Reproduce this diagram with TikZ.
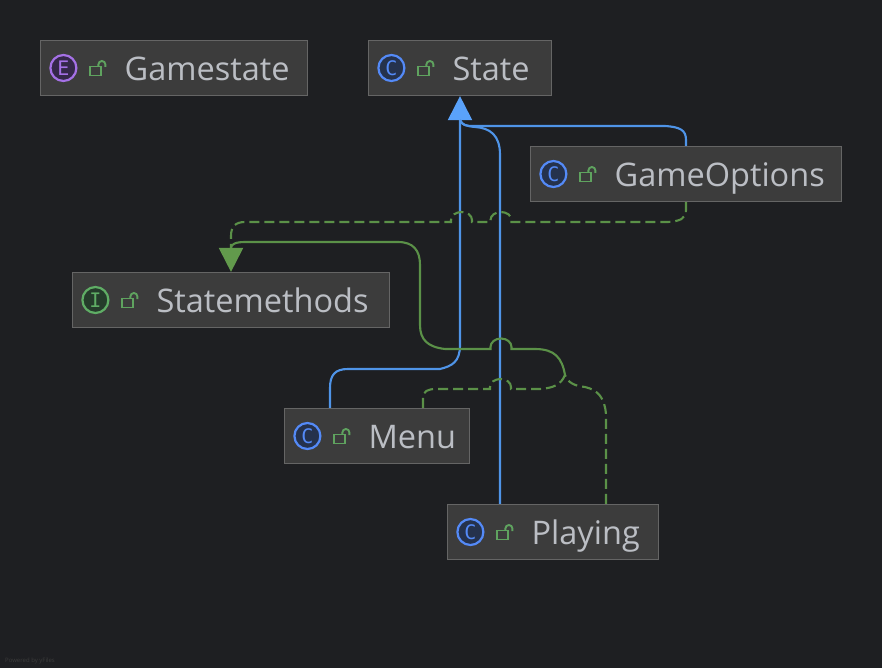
\documentclass[tikz,border=0pt]{standalone}
\usepackage{fontspec}
\setmainfont{Open Sans}
\newfontfamily\iconfont{DejaVu Sans Mono}
\usetikzlibrary{arrows.meta}
\definecolor{bgdark}{HTML}{1E1F22}
\definecolor{boxfill}{HTML}{3C3C3C}
\definecolor{boxline}{HTML}{656565}
\definecolor{labelgrey}{HTML}{BBBEC4}
\definecolor{extendblue}{HTML}{4F94E8}
\definecolor{tipblue}{HTML}{5AA2FA}
\definecolor{implgreen}{HTML}{5B9148}
\definecolor{tipgreen}{HTML}{629A4C}
\definecolor{lockgreen}{HTML}{5FA35F}
\definecolor{classblue}{HTML}{548AF7}
\definecolor{classfill}{HTML}{25324D}
\definecolor{enumpurple}{HTML}{A571E6}
\definecolor{enumfill}{HTML}{35284A}
\definecolor{ifacegreen}{HTML}{5FAD65}
\definecolor{ifacefill}{HTML}{253C2B}
\tikzset{
	umlbox/.style={draw=boxline,fill=boxfill,line width=1.2pt,minimum height=55pt,inner sep=0pt},
	boxlabel/.style={text=labelgrey,font=\fontsize{32.5}{33}\selectfont,inner sep=0pt,anchor=base west},
	iconbase/.style={circle,line width=2.2pt,minimum size=26pt,inner sep=0pt,font=\iconfont\fontsize{20}{20}\selectfont},
	classicon/.style={iconbase,draw=classblue,fill=classfill,text=classblue},
	enumicon/.style={iconbase,draw=enumpurple,fill=enumfill,text=enumpurple},
	ifaceicon/.style={iconbase,draw=ifacegreen,fill=ifacefill,text=ifacegreen},
	extendline/.style={draw=extendblue,line width=2.1pt},
	impldash/.style={draw=implgreen,line width=2.1pt,dash pattern=on 10pt off 5pt},
	impltip/.style={-{Triangle[length=24pt,width=24pt,color=tipgreen]}},
	extendtip/.style={-{Triangle[length=24pt,width=24pt,color=tipblue]}},
	unlock/.pic={
		\draw[lockgreen,line width=1.9pt,fill=boxfill] (-7.5,-1.5) rectangle (3.5,7.5);
		\draw[lockgreen,line width=1.9pt] (0.5,-1.5) -- (0.5,-3.5) arc[start angle=180,end angle=0,radius=3.5pt] -- (7.5,-1);
	}
}
\begin{document}
\begin{tikzpicture}[x=1pt,y=-1pt]
	\useasboundingbox[fill=bgdark] (0,0) rectangle (882,668);
	% connectors first, boxes sit on top
	\coordinate (statejoin) at (460,120);
	\coordinate (methodjoin) at (231,248);
	\coordinate (mergepoint) at (565,375);
	\node[umlbox,minimum width=183pt] (state) at (460,68) {};
	\node[umlbox,minimum width=317pt] (statemethods) at (231,300) {};
	\node[umlbox,minimum width=311pt] (gameoptions) at (686,174) {};
	\node[umlbox,minimum width=185pt] (menu) at (377,436) {};
	\node[umlbox,minimum width=211pt] (playing) at (553,532) {};
	\node[umlbox,minimum width=267pt] (gamestate) at (174,68) {};
	% extends State
	\draw[extendline,extendtip] ([xshift=-47pt]menu.north) -- (330,388) .. controls (330,375) and (335,369) .. (348,369) -- (440,369) .. controls (452,366) and (460,362) .. (460,345) -- (state.south);
	\draw[extendline] ([xshift=-53pt]playing.north) -- (500,155) .. controls (500,135) and (490,128) .. (475,127) .. controls (466,126) and (462,125) .. (statejoin);
	\draw[extendline] (gameoptions.north) -- (686,140) .. controls (686,130) and (680,127) .. (665,126) -- (472,126) .. controls (466,126) and (462,125) .. (statejoin);
	% implements Statemethods
	\draw[impldash] (gameoptions.south) -- (686,210) .. controls (686,219) and (680,221) .. (668,222) -- (511.5,222) -- (511.5,220) arc[start angle=0,end angle=180,x radius=10.5pt,y radius=8pt] -- (490.5,222) -- (472,222) -- (472,220) arc[start angle=0,end angle=180,x radius=10.5pt,y radius=8pt] -- (451,222) -- (245,222) .. controls (235,222) and (231,227) .. (231,236) -- (methodjoin);
	\draw[impldash] ([xshift=46pt]menu.north) -- (423,398) .. controls (423,391) and (428,389) .. (436,389) -- (490,389) -- (490,387) arc[start angle=180,end angle=0,x radius=10.5pt,y radius=8pt] -- (511,389) -- (540,389) .. controls (553,388) and (561,385) .. (mergepoint);
	\draw[impldash] ([xshift=53pt]playing.north) -- (606,415) .. controls (605,398) and (598,390) .. (585,387) .. controls (575,386) and (568,383) .. (mergepoint);
	\draw[draw=implgreen,line width=2.1pt,impltip] (mergepoint) .. controls (562,358) and (555,349) .. (535,349) -- (511.5,349) -- (511.5,347) arc[start angle=0,end angle=180,x radius=10.5pt,y radius=8.5pt] -- (490.5,349) -- (445,349) .. controls (428,347) and (420,340) .. (420,325) -- (420,265) .. controls (420,250) and (413,242) .. (398,242) -- (245,242) .. controls (236,242) and (231,244) .. (methodjoin) -- (statemethods.north);
	% boxes again so that they cover line ends
	\node[umlbox,minimum width=183pt] at (state) {};
	\node[umlbox,minimum width=311pt] at (gameoptions) {};
	% Gamestate
	\node[enumicon] (gamestateicon) at ([xshift=23.5pt]gamestate.west) {E};
	\pic at ([xshift=58pt]gamestate.west) {unlock};
	\node[boxlabel] (gamestatelabel) at ([xshift=84.5pt,yshift=-12.5pt]gamestate.west) {Gamestate};
	% State
	\node[classicon] (stateicon) at ([xshift=23.5pt]state.west) {C};
	\pic at ([xshift=58pt]state.west) {unlock};
	\node[boxlabel] (statelabel) at ([xshift=84.5pt,yshift=-12.5pt]state.west) {State};
	% GameOptions
	\node[classicon] (gameoptionsicon) at ([xshift=23.5pt]gameoptions.west) {C};
	\pic at ([xshift=58pt]gameoptions.west) {unlock};
	\node[boxlabel] (gameoptionslabel) at ([xshift=84.5pt,yshift=-12.5pt]gameoptions.west) {GameOptions};
	% Statemethods
	\node[ifaceicon] (statemethodsicon) at ([xshift=23.5pt]statemethods.west) {I};
	\pic at ([xshift=58pt]statemethods.west) {unlock};
	\node[boxlabel] (statemethodslabel) at ([xshift=84.5pt,yshift=-12.5pt]statemethods.west) {Statemethods};
	% Menu
	\node[classicon] (menuicon) at ([xshift=23.5pt]menu.west) {C};
	\pic at ([xshift=58pt]menu.west) {unlock};
	\node[boxlabel] (menulabel) at ([xshift=84.5pt,yshift=-12.5pt]menu.west) {Menu};
	% Playing
	\node[classicon] (playingicon) at ([xshift=23.5pt]playing.west) {C};
	\pic at ([xshift=58pt]playing.west) {unlock};
	\node[boxlabel] (playinglabel) at ([xshift=84.5pt,yshift=-12.5pt]playing.west) {Playing};
	\node[anchor=base west,inner sep=0pt,text=boxfill,font=\fontsize{6}{6}\selectfont] (poweredby) at (5,662) {Powered by yFiles};
\end{tikzpicture}
\end{document}
